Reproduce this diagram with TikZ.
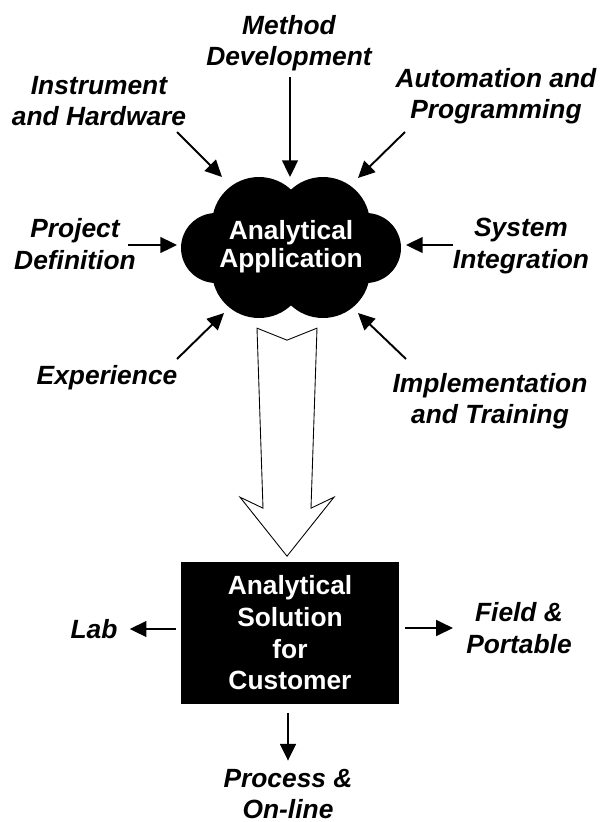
\documentclass[tikz,border=0pt]{standalone}
\usepackage{fontspec}
\setmainfont{Liberation Sans}
\usetikzlibrary{calc,positioning}
\usetikzlibrary{shapes,arrows.meta}

\begin{document}
\begin{tikzpicture}[x=0.02cm, y=0.02cm,
  topic/.style={font=\fontsize{15}{18}\selectfont\bfseries\itshape, align=center, inner sep=0pt},
  core/.style={text=white, font=\fontsize{15}{16}\selectfont\bfseries, align=center, inner sep=0pt},
  solution/.style={fill=black, text=white, font=\fontsize{15}{18}\selectfont\bfseries, align=center,
    minimum width=4.36cm, minimum height=2.86cm},
  feed/.style={-{Triangle[length=9.5pt,width=9pt]}, line width=1.1pt}]
\useasboundingbox (0,0) rectangle (603,-822);

% the cloud
\fill (259,-224) circle[radius=0.94cm] (323,-224) circle[radius=0.94cm]
      (259,-271) circle[radius=0.94cm] (323,-271) circle[radius=0.94cm]
      (216,-248) circle[radius=0.7cm] (366,-248) circle[radius=0.7cm];
\node[core] (app) at (291,-247) {Analytical\\Application};

\node[topic] (method) at (289,-43) {Method\\Development};
\node[topic] (instr) at (99,-101) {Instrument\\and Hardware};
\node[topic] (auto) at (496,-96) {Automation and\\Programming};
\node[topic] (proj) at (75,-244) {Project\\Definition};
\node[topic] (sys) at (521,-246) {System\\Integration};
\node[topic] (exp) at (107,-378) {Experience};
\node[topic] (impl) at (490,-401) {Implementation\\and Training};

\draw[feed] ($(method)+(1,-34)$) -- ($(app)+(-1,70)$);
\draw[feed] ($(instr)+(78,-31)$) -- ($(app)+(-69,70)$);
\draw[feed] ($(auto)+(-91,-36)$) -- ($(app)+(67,69)$);
\draw[feed] ($(proj)+(53,-1)$) -- ($(app)+(-114,2)$);
\draw[feed] ($(sys)+(-68,1)$) -- ($(app)+(115,2)$);
\draw[feed] ($(exp)+(70,19)$) -- ($(app)+(-67,-66)$);
\draw[feed] ($(impl)+(-84,42)$) -- ($(app)+(67,-66)$);

\node[solution] (box) at (290,-633) {Analytical\\Solution\\for\\Customer};

% big hollow arrow
\coordinate (tip) at ($(box.north)+(-3,5)$);
\draw[line width=0.5pt, fill=white] (tip) -- ++(-47,59) -- ++(23,-11) -- ++(-6,180)
  -- ++(30,-12) -- ++(30,12) -- ++(-6,-180) -- ++(23,11) -- cycle;

\node[topic] (lab) at (94,-629) {Lab};
\node[topic] (field) at (519,-628) {Field \&\\Portable};
\node[topic] (proc) at (288,-794) {Process \&\\On-line};

\draw[feed, shorten <=0.1cm, shorten >=0.24cm] (box.west |- lab.east) -- (lab.east);
\draw[feed, shorten <=0.12cm, shorten >=0.26cm] (box.east |- field.west) -- (field.west);
\draw[feed, shorten <=0.16cm, shorten >=0.16cm] (box.south -| proc.north) -- (proc.north);
\end{tikzpicture}
\end{document}
